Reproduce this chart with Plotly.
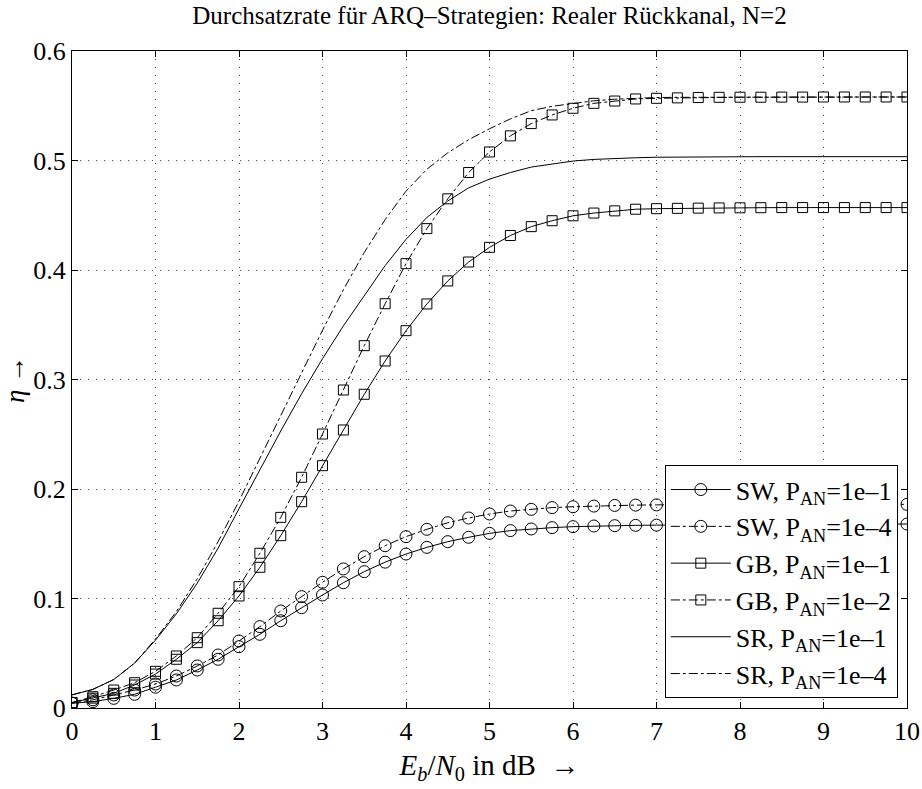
import plotly.graph_objects as go

# E_b/N_0 in dB, every 0.25 dB
ebn0 = [i * 0.25 for i in range(41)]

sw_1e1 = [0.0043, 0.0058, 0.0088, 0.0125, 0.0190, 0.0256, 0.0347, 0.0445, 0.0560, 0.0673,
          0.0797, 0.0916, 0.1032, 0.1144, 0.1245, 0.1332, 0.1406, 0.1467, 0.1519, 0.1559,
          0.1595, 0.1620, 0.1635, 0.1647, 0.1656, 0.1662, 0.1665, 0.1668, 0.1670, 0.1672,
          0.1674, 0.1675, 0.1676, 0.1677, 0.1678, 0.1678, 0.1679, 0.1679, 0.1680, 0.1680, 0.1680]

sw_1e4 = [0.0045, 0.0075, 0.0119, 0.0164, 0.0219, 0.0292, 0.0384, 0.0484, 0.0612, 0.0743,
          0.0886, 0.1017, 0.1148, 0.1270, 0.1382, 0.1482, 0.1565, 0.1632, 0.1692, 0.1735,
          0.1772, 0.1799, 0.1814, 0.1830, 0.1838, 0.1844, 0.1850, 0.1853, 0.1855, 0.1856,
          0.1857, 0.1858, 0.1858, 0.1859, 0.1859, 0.1860, 0.1860, 0.1860, 0.1860, 0.1860, 0.1860]

gb_1e1 = [0.0050, 0.0090, 0.0134, 0.0210, 0.0310, 0.0445, 0.0597, 0.0797, 0.1023, 0.1285,
          0.1574, 0.1884, 0.2213, 0.2539, 0.2865, 0.3169, 0.3446, 0.3690, 0.3900, 0.4073,
          0.4207, 0.4315, 0.4396, 0.4450, 0.4495, 0.4520, 0.4540, 0.4555, 0.4560, 0.4563,
          0.4565, 0.4567, 0.4568, 0.4569, 0.4570, 0.4570, 0.4570, 0.4570, 0.4570, 0.4570, 0.4570]

gb_1e2 = [0.0050, 0.0103, 0.0164, 0.0231, 0.0335, 0.0475, 0.0642, 0.0865, 0.1108, 0.1413,
          0.1741, 0.2107, 0.2502, 0.2904, 0.3309, 0.3692, 0.4058, 0.4378, 0.4650, 0.4890,
          0.5078, 0.5225, 0.5337, 0.5416, 0.5477, 0.5522, 0.5543, 0.5562, 0.5568, 0.5572,
          0.5575, 0.5577, 0.5578, 0.5578, 0.5579, 0.5579, 0.5580, 0.5580, 0.5580, 0.5580, 0.5580]

sr_1e1 = [0.0120, 0.0170, 0.0260, 0.0410, 0.0620, 0.0860, 0.1140, 0.1460, 0.1820, 0.2180,
          0.2530, 0.2870, 0.3190, 0.3490, 0.3770, 0.4040, 0.4280, 0.4480, 0.4630, 0.4750,
          0.4830, 0.4890, 0.4940, 0.4970, 0.4995, 0.5010, 0.5020, 0.5025, 0.5030, 0.5032,
          0.5033, 0.5034, 0.5035, 0.5035, 0.5035, 0.5035, 0.5035, 0.5035, 0.5035, 0.5035, 0.5035]

sr_1e4 = [0.0120, 0.0170, 0.0260, 0.0410, 0.0630, 0.0880, 0.1180, 0.1520, 0.1890, 0.2280,
          0.2680, 0.3070, 0.3450, 0.3820, 0.4160, 0.4460, 0.4720, 0.4920, 0.5070, 0.5190,
          0.5290, 0.5380, 0.5455, 0.5495, 0.5520, 0.5545, 0.5560, 0.5570, 0.5575, 0.5577,
          0.5578, 0.5579, 0.5580, 0.5580, 0.5580, 0.5580, 0.5580, 0.5580, 0.5580, 0.5580, 0.5580]

names = ["SW, P<sub>AN</sub>=1e–1", "SW, P<sub>AN</sub>=1e–4",
         "GB, P<sub>AN</sub>=1e–1", "GB, P<sub>AN</sub>=1e–2",
         "SR, P<sub>AN</sub>=1e–1", "SR, P<sub>AN</sub>=1e–4"]

x_ticks = list(range(0, 11))
y_tickvals = [0, 0.1, 0.2, 0.3, 0.4, 0.5, 0.6]
y_ticktext = ["0", "0.1", "0.2", "0.3", "0.4", "0.5", "0.6"]

FONT = '"Liberation Serif", "Times New Roman", serif'

series = [
    (sw_1e1, names[0], "solid", "circle-open", 12, "lines+markers"),
    (sw_1e4, names[1], "dashdot", "circle-open", 12, "lines+markers"),
    (gb_1e1, names[2], "solid", "square-open", 10, "lines+markers"),
    (gb_1e2, names[3], "dashdot", "square-open", 10, "lines+markers"),
    (sr_1e1, names[4], "solid", None, 0, "lines"),
    (sr_1e4, names[5], "dashdot", None, 0, "lines"),
]

fig = go.Figure()
for ys, nm, dash, sym, sz, mode in series:
    kw = dict(x=ebn0, y=ys, name=nm, mode=mode,
              line=dict(color="black", width=1, dash=dash))
    if sym:
        kw["marker"] = dict(symbol=sym, size=sz, color="black",
                            line=dict(color="black", width=1))
    fig.add_trace(go.Scatter(**kw))

axis_common = dict(
    automargin=False,
    showline=True, linecolor="black", linewidth=1, mirror="ticks",
    ticks="inside", ticklen=6, tickcolor="black",
    showgrid=True, gridcolor="#444", gridwidth=1, griddash="1px,7px",
    zeroline=False, tickfont=dict(family=FONT, size=26, color="black"),
)

fig.update_xaxes(range=[0, 10], tickvals=x_ticks, ticktext=[str(v) for v in x_ticks],
                 title=dict(text="<i>E</i><sub><i>b</i></sub>/<i>N</i><sub>0</sub> in dB  →",
                            font=dict(family=FONT, size=29, color="black"), standoff=9),
                 **axis_common)
fig.update_yaxes(range=[0, 0.6], tickvals=y_tickvals, ticktext=y_ticktext,
                 title=dict(text="<i>η</i> →", font=dict(family=FONT, size=27, color="black")),
                 **axis_common)

fig.update_layout(
    width=922, height=789,
    margin=dict(l=72, r=15, t=51, b=81),
    paper_bgcolor="white", plot_bgcolor="white",
    font=dict(family=FONT, size=26, color="black"),
    title=dict(text="Durchsatzrate für ARQ–Strategien: Realer Rückkanal, N=2",
               x=(72 + 907) / 2 / 922, xanchor="center",
               y=1 - 15 / 789, yanchor="middle", yref="container",
               font=dict(family=FONT, size=25, color="black")),
    legend=dict(x=0.989, xanchor="right", y=0.015, yanchor="bottom",
                bgcolor="white", bordercolor="black", borderwidth=1,
                font=dict(family=FONT, size=26, color="black"),
                tracegroupgap=0, itemwidth=60),
    showlegend=True,
)

fig.write_html("out.html")
